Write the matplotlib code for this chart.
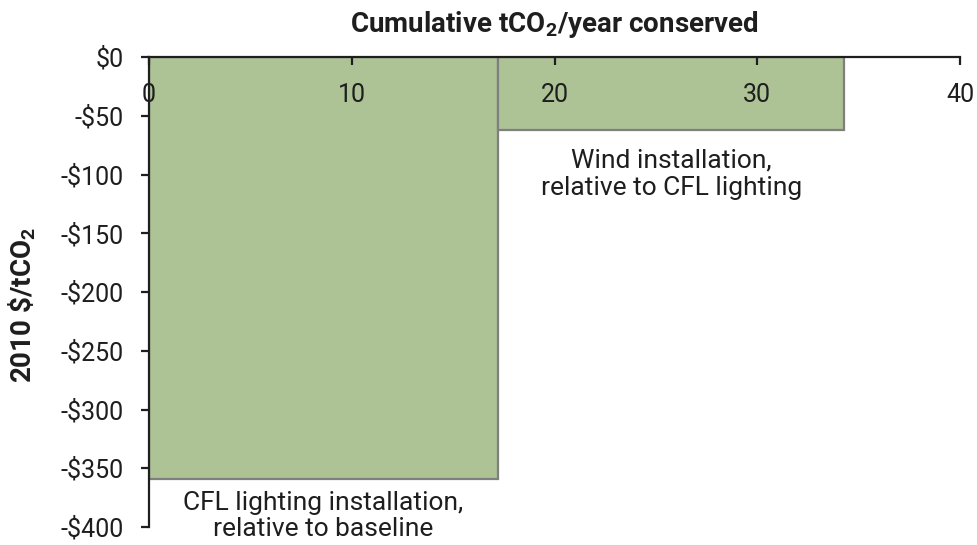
import matplotlib
matplotlib.use("Agg")
import matplotlib.pyplot as plt
import numpy as np

# Data
measures = ["CFL lighting installation,\nrelative to baseline",
            "Wind installation,\nrelative to CFL lighting"]
tco2_conserved = [17.2, 17.1]      # width of each block (tCO2/year)
cost_per_t = [-359, -62]           # 2010 $/tCO2
x_ticks = [0, 10, 20, 30, 40]
y_ticks = [0, -50, -100, -150, -200, -250, -300, -350, -400]
y_tick_labels = ["$0" if v == 0 else "-$%d" % abs(v) for v in y_ticks]

plt.rcParams['font.family'] = ['Roboto', 'DejaVu Sans']
plt.rcParams['mathtext.fontset'] = 'custom'
plt.rcParams['mathtext.rm'] = 'Roboto'
plt.rcParams['mathtext.bf'] = 'Roboto:bold'

text_color = '#1e1e1e'
fig = plt.figure(figsize=(9.77, 5.45), dpi=100)
ax = fig.add_axes([149/977, 1-527/545, (960-149)/977, (527-57)/545])

lefts = np.concatenate([[0], np.cumsum(tco2_conserved)[:-1]])
ax.bar(lefts, cost_per_t, width=tco2_conserved, align='edge',
       color='#adc395', edgecolor='#7f7f7f', linewidth=1.6, zorder=1)

ax.set_xlim(0, 40)
ax.set_ylim(-400, 0)

for s in ['right', 'top']:
    ax.spines[s].set_visible(False)
ax.spines['bottom'].set_position(('data', 0))
for s in ['bottom', 'left']:
    ax.spines[s].set_linewidth(1.6)
    ax.spines[s].set_color(text_color)
    ax.spines[s].set_zorder(3)

ax.set_xticks(x_ticks)
ax.set_xticklabels([str(v) for v in x_ticks])
ax.set_yticks(y_ticks)
ax.set_yticklabels(y_tick_labels)
ax.tick_params(axis='x', direction='out', length=6, width=1.6, colors=text_color,
               labelsize=18, pad=13)
ax.tick_params(axis='y', direction='out', length=6, width=1.6, colors=text_color,
               labelsize=18, pad=12.5)

fig.text((149+960)/2/977, 1-25/545, r"Cumulative tCO$_\mathbf{2}$/year conserved",
         ha='center', va='center', fontsize=20, fontweight='bold', color=text_color)
fig.text(22/977, 1-305/545, r"2010 \$/tCO$_\mathbf{2}$", rotation=90,
         ha='center', va='center', fontsize=20, fontweight='bold', color=text_color)

ax.text(lefts[0] + tco2_conserved[0]/2, -369, measures[0], ha='center', va='top',
        fontsize=19, color=text_color, linespacing=1.15)
ax.text(lefts[1] + tco2_conserved[1]/2, -78, measures[1], ha='center', va='top',
        fontsize=19, color=text_color, linespacing=1.15)

fig.savefig("out.png", dpi=100)
